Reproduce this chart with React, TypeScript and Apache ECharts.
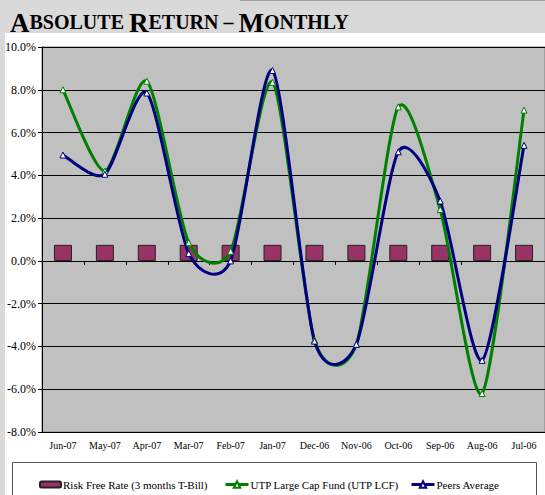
import React, { useEffect, useRef } from "react";
import * as echarts from "echarts";

const categories = ["Jun-07", "May-07", "Apr-07", "Mar-07", "Feb-07", "Jan-07", "Dec-06", "Nov-06", "Oct-06", "Sep-06", "Aug-06", "Jul-06"];
const riskFree = [0.75, 0.75, 0.75, 0.75, 0.75, 0.75, 0.75, 0.75, 0.75, 0.75, 0.75, 0.75];
const utpLcf = [8.0, 4.2, 8.4, 0.85, 0.45, 8.35, -3.7, -3.9, 7.2, 2.4, -6.2, 7.05];
const peers = [4.95, 4.05, 7.85, 0.35, 0.0, 8.9, -3.75, -3.9, 5.1, 2.8, -4.65, 5.4];

const SERIF = "Liberation Serif, Times New Roman, serif";
const GREEN = "#008000";
const NAVY = "#000080";
const K = 0.125;

function curveSeries(name: string, values: number[], color: string, z: number) {
  return {
    name,
    type: "custom",
    z,
    silent: true,
    data: values.map((v, i) => [i, v]),
    encode: { x: 0, y: 1 },
    renderItem: (params: any, api: any) => {
      const i = params.dataIndex;
      const n = values.length;
      if (i >= n - 1) return null;
      const pt = (j: number) => api.coord([j, values[Math.max(0, Math.min(n - 1, j))]]);
      const pPrev = i === 0 ? pt(0) : pt(i - 1);
      const p0 = pt(i);
      const p1 = pt(i + 1);
      const pNext = i + 2 > n - 1 ? pt(n - 1) : pt(i + 2);
      const c1 = [p0[0] + (p1[0] - pPrev[0]) * K, p0[1] + (p1[1] - pPrev[1]) * K];
      const c2 = [p1[0] - (pNext[0] - p0[0]) * K, p1[1] - (pNext[1] - p0[1]) * K];
      return {
        type: "bezierCurve",
        shape: { x1: p0[0], y1: p0[1], x2: p1[0], y2: p1[1], cpx1: c1[0], cpy1: c1[1], cpx2: c2[0], cpy2: c2[1] },
        style: { stroke: color, lineWidth: 3, fill: "none" },
      };
    },
  };
}

export default function App() {
  const ref = useRef<HTMLDivElement>(null);
  useEffect(() => {
    const chart = echarts.init(ref.current!, null, { renderer: "svg" });
    const big = { fontFamily: SERIF, fontWeight: "bold", fontSize: 27, color: NAVY };
    const small = { fontFamily: SERIF, fontWeight: "bold", fontSize: 20, color: NAVY, padding: [0, 0, 1, 0] };
    const legendText = { fontFamily: SERIF, fontSize: 11, color: "#000", padding: [0, 0, 0, -3] };
    chart.setOption({
      animation: false,
      backgroundColor: "#d9d9d9",
      textStyle: { fontFamily: SERIF },
      graphic: [
        { type: "rect", z: -10, shape: { x: 5, y: 33, width: 545, height: 470 }, style: { fill: "#ffffff" } },
        { type: "line", z: -10, shape: { x1: 240, y1: 0.5, x2: 545, y2: 0.5 }, style: { stroke: "#a0a0a0", lineWidth: 1 } },
        {
          type: "text",
          left: 10,
          top: 9,
          style: {
            text: "{b|A}{s|BSOLUTE }{b|R}{s|ETURN – }{b|M}{s|ONTHLY}",
            rich: { b: big, s: small },
          },
        },
        { type: "rect", z: 10, shape: { x: 12.5, y: 462.5, width: 524, height: 40 }, style: { fill: "none", stroke: "#555", lineWidth: 1 } },
      ],
      grid: {
        left: 42,
        top: 47,
        width: 504,
        height: 385,
        show: true,
        backgroundColor: "#c0c0c0",
        borderColor: "#808080",
        borderWidth: 1,
        containLabel: false,
      },
      legend: [
        {
          left: 34, top: 474, itemWidth: 21, itemHeight: 6, itemGap: 2,
          data: ["Risk Free Rate (3 months T-Bill)"],
          textStyle: legendText,
        },
        {
          left: 219, top: 474, itemWidth: 23, itemHeight: 8, itemGap: 2,
          data: [{ name: "UTP Large Cap Fund (UTP LCF)", lineStyle: { color: GREEN, width: 3, opacity: 1 } }],
          textStyle: legendText,
        },
        {
          left: 405, top: 474, itemWidth: 23, itemHeight: 8, itemGap: 2,
          data: [{ name: "Peers Average", lineStyle: { color: NAVY, width: 3, opacity: 1 } }],
          textStyle: legendText,
        },
      ],
      xAxis: {
        type: "category",
        data: categories,
        axisLine: { onZero: true, lineStyle: { color: "#000", width: 1 } },
        axisTick: { show: true, inside: false, length: 4, lineStyle: { color: "#000" } },
        axisLabel: { fontFamily: SERIF, fontSize: 10, color: "#000", margin: 8, interval: 0 },
        splitLine: { show: false },
      },
      yAxis: {
        type: "value",
        min: -8,
        max: 10,
        interval: 2,
        axisLine: { show: true, lineStyle: { color: "#000", width: 1 } },
        axisTick: { show: true, length: 4, lineStyle: { color: "#000" } },
        axisLabel: {
          fontFamily: SERIF, fontSize: 12, color: "#000", margin: 6,
          formatter: (v: number) => v.toFixed(1) + "%",
        },
        splitLine: { show: true, lineStyle: { color: "#000", width: 1 } },
      },
      series: [
        {
          name: "Risk Free Rate (3 months T-Bill)",
          type: "bar",
          data: riskFree,
          barWidth: 18,
          itemStyle: { color: "#993366", borderColor: "#222", borderWidth: 1 },
        },
        curveSeries("utpCurve", utpLcf, GREEN, 3),
        curveSeries("peersCurve", peers, NAVY, 4),
        {
          name: "UTP Large Cap Fund (UTP LCF)",
          type: "line",
          z: 5,
          data: utpLcf,
          symbol: "triangle",
          symbolSize: 6,
          lineStyle: { color: GREEN, width: 3, opacity: 0 },
          itemStyle: { color: "#ffffff", borderColor: GREEN, borderWidth: 1 },
        },
        {
          name: "Peers Average",
          type: "line",
          z: 6,
          data: peers,
          symbol: "triangle",
          symbolSize: 6,
          lineStyle: { color: NAVY, width: 3, opacity: 0 },
          itemStyle: { color: "#ffffff", borderColor: NAVY, borderWidth: 1 },
        },
      ],
    });
    return () => chart.dispose();
  }, []);
  return <div ref={ref} style={{ position: "absolute", left: 0, top: 0, width: 545, height: 495 }} />;
}
